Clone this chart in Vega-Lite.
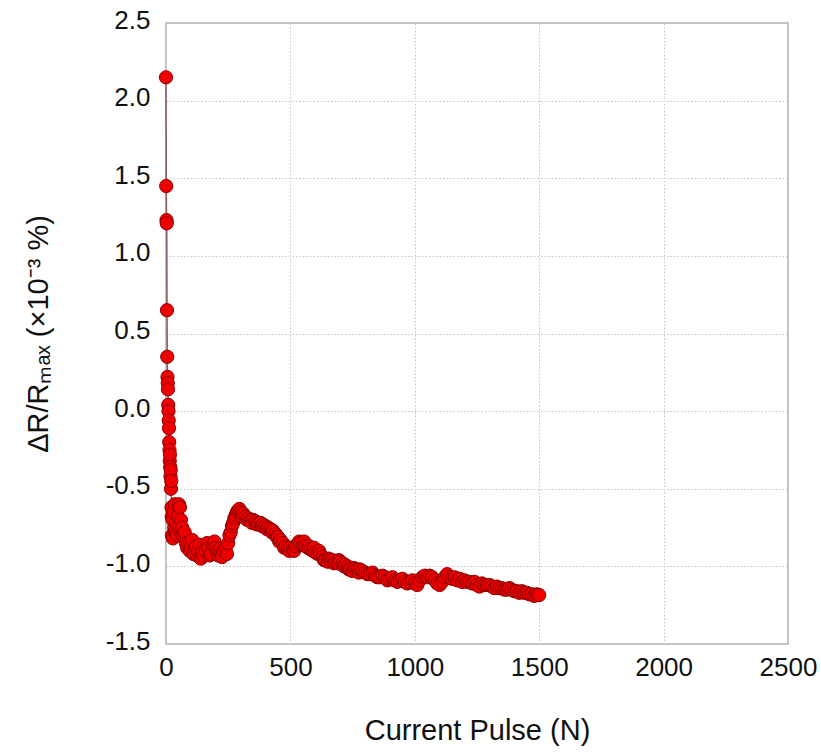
{
  "$schema": "https://vega.github.io/schema/vega-lite/v6.json",
  "width": 622,
  "height": 621,
  "autosize": {"type": "none"},
  "padding": {"left": 166, "top": 23, "right": 33, "bottom": 108},
  "background": "white",
  "data": {"values": [
    {"N": 0, "dR": 2.15}, {"N": 1, "dR": 1.45}, {"N": 2, "dR": 1.23}, {"N": 3, "dR": 1.21},
    {"N": 4, "dR": 0.65}, {"N": 5, "dR": 0.35}, {"N": 6, "dR": 0.22}, {"N": 7, "dR": 0.18},
    {"N": 8, "dR": 0.14}, {"N": 9, "dR": 0.04}, {"N": 10, "dR": 0.0}, {"N": 11, "dR": -0.06},
    {"N": 12, "dR": -0.11}, {"N": 13, "dR": -0.2}, {"N": 14, "dR": -0.25}, {"N": 15, "dR": -0.32},
    {"N": 16, "dR": -0.28}, {"N": 17, "dR": -0.36}, {"N": 18, "dR": -0.42}, {"N": 19, "dR": -0.38},
    {"N": 20, "dR": -0.5}, {"N": 21, "dR": -0.45}, {"N": 22, "dR": -0.62}, {"N": 23, "dR": -0.68}, {"N": 24, "dR": -0.8}, {"N": 26, "dR": -0.7},
    {"N": 28, "dR": -0.82}, {"N": 30, "dR": -0.65}, {"N": 33, "dR": -0.75}, {"N": 36, "dR": -0.6},
    {"N": 38, "dR": -0.78}, {"N": 40, "dR": -0.72}, {"N": 44, "dR": -0.8}, {"N": 48, "dR": -0.68}, {"N": 52, "dR": -0.6},
    {"N": 54, "dR": -0.74}, {"N": 56, "dR": -0.62}, {"N": 60, "dR": -0.7}, {"N": 62, "dR": -0.79}, {"N": 65, "dR": -0.75}, {"N": 70, "dR": -0.8},
    {"N": 75, "dR": -0.78}, {"N": 80, "dR": -0.85}, {"N": 85, "dR": -0.88}, {"N": 90, "dR": -0.85},
    {"N": 95, "dR": -0.9}, {"N": 100, "dR": -0.88}, {"N": 105, "dR": -0.83}, {"N": 110, "dR": -0.92}, {"N": 115, "dR": -0.89}, {"N": 120, "dR": -0.87},
    {"N": 125, "dR": -0.93}, {"N": 130, "dR": -0.9}, {"N": 135, "dR": -0.86}, {"N": 140, "dR": -0.95}, {"N": 145, "dR": -0.91}, {"N": 150, "dR": -0.93}, {"N": 160, "dR": -0.9},
    {"N": 165, "dR": -0.85}, {"N": 170, "dR": -0.88}, {"N": 175, "dR": -0.93}, {"N": 180, "dR": -0.92}, {"N": 190, "dR": -0.86}, {"N": 195, "dR": -0.84}, {"N": 200, "dR": -0.88},
    {"N": 205, "dR": -0.9}, {"N": 210, "dR": -0.93}, {"N": 215, "dR": -0.89}, {"N": 220, "dR": -0.92}, {"N": 225, "dR": -0.94}, {"N": 230, "dR": -0.9}, {"N": 240, "dR": -0.88},
    {"N": 245, "dR": -0.92}, {"N": 250, "dR": -0.85}, {"N": 255, "dR": -0.8}, {"N": 260, "dR": -0.78}, {"N": 265, "dR": -0.74}, {"N": 270, "dR": -0.72}, {"N": 275, "dR": -0.69}, {"N": 280, "dR": -0.67},
    {"N": 285, "dR": -0.65}, {"N": 290, "dR": -0.64}, {"N": 295, "dR": -0.63}, {"N": 300, "dR": -0.65}, {"N": 305, "dR": -0.68}, {"N": 310, "dR": -0.66}, {"N": 320, "dR": -0.68},
    {"N": 325, "dR": -0.7}, {"N": 330, "dR": -0.69}, {"N": 340, "dR": -0.7}, {"N": 345, "dR": -0.72}, {"N": 350, "dR": -0.7}, {"N": 360, "dR": -0.71},
    {"N": 365, "dR": -0.73}, {"N": 370, "dR": -0.72}, {"N": 380, "dR": -0.72}, {"N": 385, "dR": -0.74}, {"N": 390, "dR": -0.73}, {"N": 400, "dR": -0.74},
    {"N": 405, "dR": -0.76}, {"N": 410, "dR": -0.75}, {"N": 420, "dR": -0.76}, {"N": 425, "dR": -0.78}, {"N": 430, "dR": -0.77}, {"N": 440, "dR": -0.79},
    {"N": 445, "dR": -0.81}, {"N": 450, "dR": -0.81}, {"N": 455, "dR": -0.84}, {"N": 460, "dR": -0.83}, {"N": 470, "dR": -0.85}, {"N": 475, "dR": -0.88}, {"N": 480, "dR": -0.87},
    {"N": 490, "dR": -0.88}, {"N": 495, "dR": -0.9}, {"N": 500, "dR": -0.88}, {"N": 510, "dR": -0.89}, {"N": 515, "dR": -0.9}, {"N": 520, "dR": -0.87},
    {"N": 530, "dR": -0.86}, {"N": 535, "dR": -0.84}, {"N": 540, "dR": -0.85}, {"N": 550, "dR": -0.86}, {"N": 555, "dR": -0.84}, {"N": 560, "dR": -0.87},
    {"N": 570, "dR": -0.88}, {"N": 575, "dR": -0.87}, {"N": 580, "dR": -0.89}, {"N": 590, "dR": -0.9}, {"N": 595, "dR": -0.88}, {"N": 600, "dR": -0.91},
    {"N": 610, "dR": -0.92}, {"N": 615, "dR": -0.9}, {"N": 620, "dR": -0.92}, {"N": 630, "dR": -0.94}, {"N": 635, "dR": -0.96}, {"N": 640, "dR": -0.96},
    {"N": 650, "dR": -0.97}, {"N": 655, "dR": -0.95}, {"N": 660, "dR": -0.96}, {"N": 670, "dR": -0.96}, {"N": 675, "dR": -0.98}, {"N": 680, "dR": -0.97},
    {"N": 690, "dR": -0.98}, {"N": 695, "dR": -0.96}, {"N": 700, "dR": -0.97}, {"N": 710, "dR": -0.98}, {"N": 715, "dR": -1.0}, {"N": 720, "dR": -0.99},
    {"N": 730, "dR": -1.0}, {"N": 735, "dR": -1.02}, {"N": 740, "dR": -1.02}, {"N": 750, "dR": -1.03}, {"N": 755, "dR": -1.01}, {"N": 760, "dR": -1.02},
    {"N": 770, "dR": -1.02}, {"N": 775, "dR": -1.04}, {"N": 780, "dR": -1.02}, {"N": 790, "dR": -1.03}, {"N": 800, "dR": -1.04}, {"N": 810, "dR": -1.05},
    {"N": 820, "dR": -1.05}, {"N": 830, "dR": -1.04}, {"N": 840, "dR": -1.06}, {"N": 850, "dR": -1.07}, {"N": 860, "dR": -1.07}, {"N": 870, "dR": -1.06}, {"N": 880, "dR": -1.07},
    {"N": 890, "dR": -1.09}, {"N": 900, "dR": -1.08}, {"N": 910, "dR": -1.07}, {"N": 920, "dR": -1.09}, {"N": 930, "dR": -1.1}, {"N": 940, "dR": -1.09}, {"N": 950, "dR": -1.08}, {"N": 960, "dR": -1.1},
    {"N": 970, "dR": -1.11}, {"N": 980, "dR": -1.1}, {"N": 990, "dR": -1.09}, {"N": 1000, "dR": -1.11}, {"N": 1010, "dR": -1.12}, {"N": 1020, "dR": -1.09},
    {"N": 1030, "dR": -1.07}, {"N": 1040, "dR": -1.06}, {"N": 1050, "dR": -1.07}, {"N": 1060, "dR": -1.06},
    {"N": 1070, "dR": -1.07}, {"N": 1080, "dR": -1.09}, {"N": 1090, "dR": -1.11}, {"N": 1100, "dR": -1.12},
    {"N": 1110, "dR": -1.1}, {"N": 1120, "dR": -1.07}, {"N": 1130, "dR": -1.05}, {"N": 1140, "dR": -1.07},
    {"N": 1150, "dR": -1.08}, {"N": 1160, "dR": -1.07}, {"N": 1170, "dR": -1.09}, {"N": 1180, "dR": -1.08}, {"N": 1190, "dR": -1.1}, {"N": 1200, "dR": -1.09}, {"N": 1210, "dR": -1.1},
    {"N": 1220, "dR": -1.1}, {"N": 1230, "dR": -1.11}, {"N": 1240, "dR": -1.1}, {"N": 1250, "dR": -1.12}, {"N": 1260, "dR": -1.13}, {"N": 1270, "dR": -1.11}, {"N": 1280, "dR": -1.12}, {"N": 1290, "dR": -1.12},
    {"N": 1300, "dR": -1.12}, {"N": 1310, "dR": -1.13}, {"N": 1320, "dR": -1.14}, {"N": 1330, "dR": -1.13}, {"N": 1340, "dR": -1.14}, {"N": 1350, "dR": -1.14}, {"N": 1360, "dR": -1.15}, {"N": 1370, "dR": -1.15},
    {"N": 1380, "dR": -1.14}, {"N": 1390, "dR": -1.15}, {"N": 1400, "dR": -1.16}, {"N": 1410, "dR": -1.16}, {"N": 1420, "dR": -1.17}, {"N": 1430, "dR": -1.16}, {"N": 1440, "dR": -1.17}, {"N": 1450, "dR": -1.17},
    {"N": 1460, "dR": -1.18}, {"N": 1470, "dR": -1.18}, {"N": 1480, "dR": -1.19}, {"N": 1490, "dR": -1.18}, {"N": 1500, "dR": -1.185}
  ]},
  "encoding": {
    "x": {
      "field": "N", "type": "quantitative",
      "scale": {"domain": [0, 2500], "nice": false, "zero": false},
      "axis": {"values": [0, 500, 1000, 1500, 2000, 2500], "title": "Current Pulse (N)", "format": "d", "labelFlush": false}
    },
    "y": {
      "field": "dR", "type": "quantitative",
      "scale": {"domain": [-1.5, 2.5], "nice": false, "zero": false},
      "axis": {"values": [-1.5, -1.0, -0.5, 0, 0.5, 1.0, 1.5, 2.0, 2.5], "format": ".1f", "labelExpr": "replace(datum.label, '−', '-')", "labelFlush": false, "labelOffset": -3, "title": "ΔR/Rₘₐₓ  (×10⁻³ %)"}
    }
  },
  "layer": [
    {"mark": {"type": "line", "color": "#8b5a5a", "strokeWidth": 1.5}},
    {"mark": {"type": "point", "shape": "circle", "filled": true, "size": 175, "fill": "#ee0000", "stroke": "#8b0000", "strokeWidth": 1, "opacity": 1}}
  ],
  "config": {
    "font": "Liberation Sans",
    "view": {"stroke": "#b0b0b0", "strokeWidth": 1.5},
    "axis": {
      "domain": false,
      "ticks": false,
      "grid": true,
      "gridColor": "#c4c4c4",
      "gridDash": [1.5, 2],
      "gridWidth": 1,
      "labelFont": "Liberation Sans",
      "labelFontSize": 26,
      "labelColor": "#111111",
      "titleFont": "Liberation Sans",
      "titleFontSize": 29,
      "titleFontWeight": "normal",
      "titleColor": "#111111"
    },
    "axisX": {"labelPadding": 10, "titlePadding": 36},
    "axisY": {"labelPadding": 16, "titlePadding": 52}
  }
}
